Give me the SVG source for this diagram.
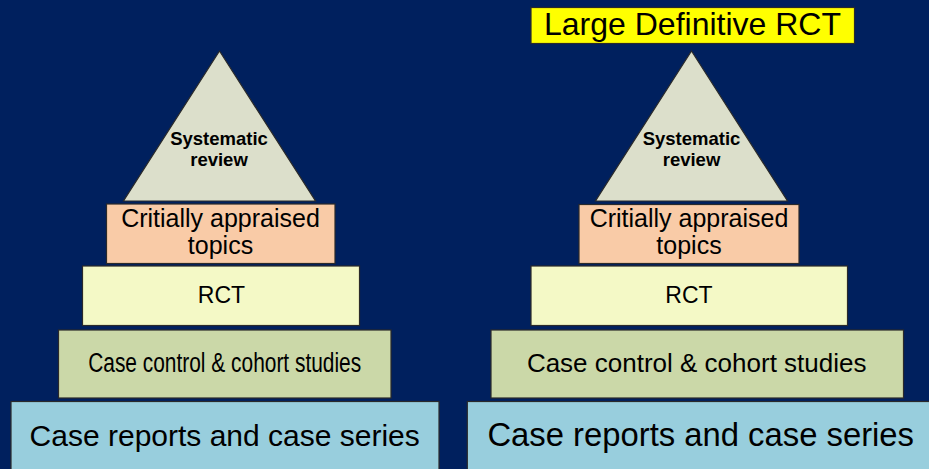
<svg xmlns="http://www.w3.org/2000/svg" width="929" height="469" viewBox="0 0 929 469">
<style>
.box{stroke:#2a2a2a;stroke-width:1.2}
.t{font-family:"Liberation Sans",Arial,sans-serif;fill:#000;text-anchor:middle}
.b{font-weight:bold;font-size:18.5px}
</style>
<rect x="0" y="0" width="929" height="469" fill="#00205E"/>
<g id="left-pyramid">
<g id="l-sys"><polygon class="box" points="219.5,51 123.5,201 315.5,201" fill="#DCDFCB"/><text class="t b" x="219" y="145">Systematic</text><text class="t b" x="219" y="166">review</text></g>
<g id="l-cat"><rect class="box" x="106.5" y="204" width="228.5" height="59.5" fill="#F9CBA7"/><text class="t" x="220.5" y="227" font-size="25">Critially appraised</text><text class="t" x="220.5" y="254" font-size="25">topics</text></g>
<g id="l-rct"><rect class="box" x="82.5" y="266" width="277" height="59.5" fill="#F4F9C6"/><text class="t" x="221.5" y="303" font-size="23">RCT</text></g>
<g id="l-cc"><rect class="box" x="58.5" y="330" width="332.5" height="68" fill="#CBD8A8"/><text class="t" x="224.7" y="372" font-size="27" textLength="273" lengthAdjust="spacingAndGlyphs">Case control &amp; cohort studies</text></g>
<g id="l-cr"><rect class="box" x="11" y="401.5" width="428" height="80" fill="#98CEDD"/><text class="t" x="224.7" y="446" font-size="30">Case reports and case series</text></g>
</g>
<g id="right-pyramid">
<g id="r-large"><rect class="box" x="531" y="7.5" width="323.5" height="36" fill="#FFFF00" stroke-width="1.5"/><text class="t" x="692.5" y="35" font-size="32">Large Definitive RCT</text></g>
<g id="r-sys"><polygon class="box" points="691.5,51 595.5,201 787.5,201" fill="#DCDFCB"/><text class="t b" x="691.5" y="145">Systematic</text><text class="t b" x="691.5" y="166">review</text></g>
<g id="r-cat"><rect class="box" x="579" y="204.5" width="220" height="59" fill="#F9CBA7"/><text class="t" x="689" y="227" font-size="25">Critially appraised</text><text class="t" x="689" y="254" font-size="25">topics</text></g>
<g id="r-rct"><rect class="box" x="531" y="266" width="316.5" height="59.5" fill="#F4F9C6"/><text class="t" x="689" y="303" font-size="23">RCT</text></g>
<g id="r-cc"><rect class="box" x="491" y="330" width="412.5" height="68" fill="#CBD8A8"/><text class="t" x="696.7" y="372" font-size="26">Case control &amp; cohort studies</text></g>
<g id="r-cr"><rect class="box" x="467.3" y="401.5" width="480" height="80" fill="#98CEDD"/><text class="t" x="700.7" y="446" font-size="32.8">Case reports and case series</text></g>
</g>
<g id="connectors"/>
</svg>
